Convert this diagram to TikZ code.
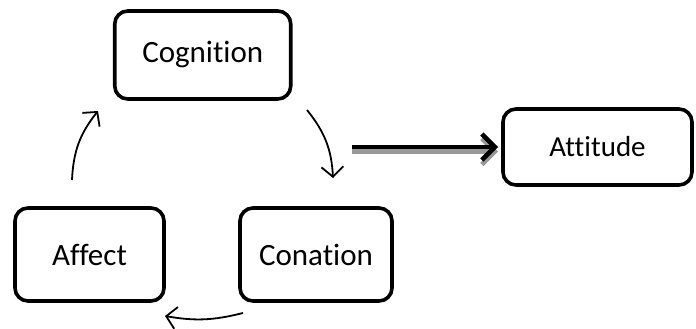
\documentclass[tikz,border=0pt]{standalone}
\usepackage{fontspec}
\setmainfont{Carlito}[Ligatures=NoCommon]
\usepackage{tikz}
\usetikzlibrary{arrows.meta,positioning,calc}

\begin{document}
\begin{tikzpicture}[x=1pt,y=-1pt,>={Straight Barb[length=10pt,width=22pt]},
  box/.style={rectangle, draw, rounded corners=13pt, line width=3.6pt, outer sep=0pt, inner sep=0pt, align=center, font=\fontsize{31}{36}\selectfont},
  cycle/.style={->, line width=1.8pt},
  main/.style={-{Straight Barb[length=13pt,width=26pt]}, line width=4.5pt}]

\useasboundingbox (0,0) rectangle (696,329);

\node (affect) [box, minimum width=149pt, minimum height=93pt] at (89.5,254.5) {Affect};

\node (conation) [box, minimum width=152pt, minimum height=93pt, right=76pt of affect] {Conation};

\coordinate (mid) at ($(affect.north)!0.5!(conation.north)$);
\node (cognition) [box, minimum width=176pt, minimum height=88pt, above=109pt of mid] {Cognition};

\coordinate (start) at (352,147);
\node (attitude) [box, minimum width=189pt, minimum height=76pt, right=151pt of start, font=\fontsize{29}{34}\selectfont] {Attitude};

% loose ends of the cycle arrows
\coordinate (ac1) at (72,180);
\coordinate (ac2) at (98,111);
\coordinate (cc1) at (307,110);
\coordinate (cc2) at (333,178);
\coordinate (ca1) at (243,313);
\coordinate (ca2) at (165,316);

\draw[cycle] (ac1) to[bend left=18] (ac2);
\draw[cycle] (cc1) to[bend left=18] (cc2);
\draw[cycle] (ca1) to[bend left=12] (ca2);

\draw[main, black!40, shorten >=5pt, transform canvas={yshift=-4.5pt}] (start) -- (attitude.west);
\draw[main, shorten >=5pt] (start) -- (attitude.west);

\end{tikzpicture}
\end{document}
